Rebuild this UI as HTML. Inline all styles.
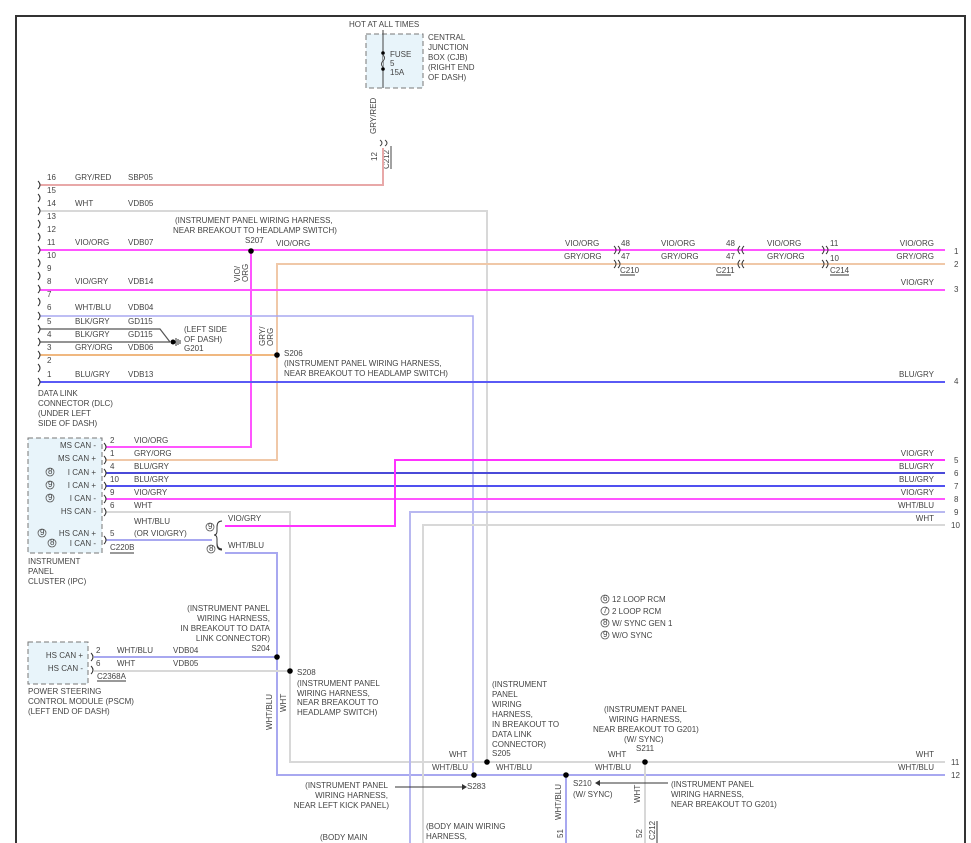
<!DOCTYPE html>
<html><head><meta charset="utf-8"><style>
html,body{margin:0;padding:0;background:#fff;}
svg{display:block;}
text{font-family:"Liberation Sans",sans-serif;font-size:8px;fill:#444;}
</style></head><body>
<svg width="971" height="843" viewBox="0 0 971 843" xmlns="http://www.w3.org/2000/svg">
<rect width="971" height="843" fill="#fff"/>
<!-- frame -->
<path d="M16,843 V16 H965 V843" fill="none" stroke="#333" stroke-width="2"/>

<!-- CJB -->
<text x="349" y="27">HOT AT ALL TIMES</text>
<rect x="366" y="34" width="57" height="54" fill="#e8f4fa" stroke="#777" stroke-dasharray="5,3"/>
<line x1="383" y1="30" x2="383" y2="88" stroke="#444" stroke-width="1"/>
<circle cx="383" cy="53" r="1.8" fill="#000"/><circle cx="383" cy="69" r="1.8" fill="#000"/>
<path d="M383,55 q3,3 0,6 q-3,3 0,6" fill="#e8f4fa" stroke="#444"/>
<text x="390" y="57">FUSE</text><text x="390" y="66">5</text><text x="390" y="75">15A</text>
<text x="428" y="40">CENTRAL</text><text x="428" y="50">JUNCTION</text><text x="428" y="60">BOX (CJB)</text><text x="428" y="70">(RIGHT END</text><text x="428" y="80">OF DASH)</text>
<text transform="translate(376,134) rotate(-90)">GRY/RED</text>
<text transform="translate(377,161) rotate(-90)">12</text>
<text transform="translate(389,169) rotate(-90)">C212</text>
<line x1="391" y1="146" x2="391" y2="169" stroke="#444"/>
<path d="M380,140 q4,3 0,6 M385,140 q4,3 0,6" fill="none" stroke="#444"/>

<!-- wires -->
<g fill="none" stroke-width="2">
<path d="M40,185 H383 V148" stroke="#e8a8a8"/>
<path d="M40,211 H487 V762" stroke="#d8d8d8"/>
<path d="M40,250 H945" stroke="#ff55ff"/>
<path d="M251,250 V447 H106" stroke="#ff55ff"/>
<path d="M945,264 H277 V460 H106" stroke="#f0c8a8"/>
<path d="M40,355 H277" stroke="#f0b880"/>
<path d="M40,290 H945" stroke="#ff55ff"/>
<path d="M40,316 H473 V775" stroke="#a8a8f0" stroke-width="1.5"/>
<path d="M40,382 H945" stroke="#5a5af5"/>
<path d="M106,473 H945" stroke="#4a4ad8"/>
<path d="M106,486 H945" stroke="#5050f0"/>
<path d="M106,499 H945" stroke="#ff55ff"/>
<path d="M106,512 H290 V762 H945" stroke="#d8d8d8"/>
<path d="M106,540 H212" stroke="#a8a8f0"/>
<path d="M225,526 H395 V460 H945" stroke="#ff33ff"/>
<path d="M225,553 H277 V775 H945" stroke="#a8a8f0"/>
<path d="M94,657 H277" stroke="#a8a8f0"/>
<path d="M94,671 H290" stroke="#d8d8d8"/>
<path d="M945,512 H410 V843" stroke="#b8b8f0"/>
<path d="M945,525 H423 V843" stroke="#d8d8d8"/>
<path d="M645,762 V843" stroke="#d8d8d8"/>
<path d="M566,775 V843" stroke="#a8a8f0"/>
</g>
<g fill="none" stroke="#555" stroke-width="1.2">
<path d="M40,329 H160 L170,342"/>
<path d="M40,342 H170"/>
</g>
<!-- G201 -->
<circle cx="173" cy="342" r="2.5" fill="#000"/>
<path d="M176,338 v8 M178,339 v6 M180,340 v4" stroke="#333"/>
<text x="184" y="332">(LEFT SIDE</text><text x="184" y="342">OF DASH)</text><text x="184" y="351">G201</text>

<!-- DLC pins -->
<g fill="none" stroke="#333" stroke-width="1">
<path d="M38,181 q4,4 0,8 M38,194 q4,4 0,8 M38,207 q4,4 0,8 M38,220 q4,4 0,8 M38,233 q4,4 0,8 M38,246 q4,4 0,8 M38,259 q4,4 0,8 M38,272 q4,4 0,8 M38,285 q4,4 0,8 M38,298 q4,4 0,8 M38,312 q4,4 0,8 M38,325 q4,4 0,8 M38,338 q4,4 0,8 M38,351 q4,4 0,8 M38,364 q4,4 0,8 M38,378 q4,4 0,8"/>
</g>
<g>
<text x="47" y="180">16</text><text x="75" y="180">GRY/RED</text><text x="128" y="180">SBP05</text>
<text x="47" y="193">15</text>
<text x="47" y="206">14</text><text x="75" y="206">WHT</text><text x="128" y="206">VDB05</text>
<text x="47" y="219">13</text><text x="47" y="232">12</text>
<text x="47" y="245">11</text><text x="75" y="245">VIO/ORG</text><text x="128" y="245">VDB07</text>
<text x="47" y="258">10</text><text x="47" y="271">9</text>
<text x="47" y="284">8</text><text x="75" y="284">VIO/GRY</text><text x="128" y="284">VDB14</text>
<text x="47" y="297">7</text>
<text x="47" y="310">6</text><text x="75" y="310">WHT/BLU</text><text x="128" y="310">VDB04</text>
<text x="47" y="324">5</text><text x="75" y="324">BLK/GRY</text><text x="128" y="324">GD115</text>
<text x="47" y="337">4</text><text x="75" y="337">BLK/GRY</text><text x="128" y="337">GD115</text>
<text x="47" y="350">3</text><text x="75" y="350">GRY/ORG</text><text x="128" y="350">VDB06</text>
<text x="47" y="363">2</text>
<text x="47" y="377">1</text><text x="75" y="377">BLU/GRY</text><text x="128" y="377">VDB13</text>
<text x="38" y="396">DATA LINK</text><text x="38" y="406">CONNECTOR (DLC)</text><text x="38" y="416">(UNDER LEFT</text><text x="38" y="426">SIDE OF DASH)</text>
</g>

<!-- splices top -->
<circle cx="251" cy="251" r="2.8" fill="#000"/>
<text x="175" y="223">(INSTRUMENT PANEL WIRING HARNESS,</text>
<text x="173" y="233">NEAR BREAKOUT TO HEADLAMP SWITCH)</text>
<text x="245" y="243">S207</text><text x="276" y="246">VIO/ORG</text>
<text transform="translate(240,282) rotate(-90)">VIO/</text><text transform="translate(248,282) rotate(-90)">ORG</text>
<text transform="translate(265,346) rotate(-90)">GRY/</text><text transform="translate(273,346) rotate(-90)">ORG</text>
<circle cx="277" cy="355" r="2.8" fill="#000"/>
<text x="284" y="356">S206</text>
<text x="284" y="366">(INSTRUMENT PANEL WIRING HARNESS,</text>
<text x="284" y="376">NEAR BREAKOUT TO HEADLAMP SWITCH)</text>

<!-- right connectors -->
<g fill="none" stroke="#333">
<path d="M614,246 q4,4 0,8 M618,246 q4,4 0,8 M614,260 q4,4 0,8 M618,260 q4,4 0,8"/>
<path d="M740,246 q-4,4 0,8 M744,246 q-4,4 0,8 M740,260 q-4,4 0,8 M744,260 q-4,4 0,8"/>
<path d="M822,246 q4,4 0,8 M826,246 q4,4 0,8 M822,260 q4,4 0,8 M826,260 q4,4 0,8"/>
<path d="M620,275 h15 M716,275 h15 M830,275 h19"/>
</g>
<text x="565" y="246">VIO/ORG</text><text x="621" y="246">48</text><text x="661" y="246">VIO/ORG</text><text x="726" y="246">48</text><text x="767" y="246">VIO/ORG</text><text x="830" y="246">11</text>
<text x="564" y="259">GRY/ORG</text><text x="621" y="259">47</text><text x="661" y="259">GRY/ORG</text><text x="726" y="259">47</text><text x="767" y="259">GRY/ORG</text><text x="830" y="261">10</text>
<text x="620" y="273">C210</text><text x="716" y="273">C211</text><text x="830" y="273">C214</text>
<g text-anchor="end">
<text x="934" y="246">VIO/ORG</text><text x="934" y="259">GRY/ORG</text><text x="934" y="285">VIO/GRY</text><text x="934" y="377">BLU/GRY</text>
<text x="934" y="456">VIO/GRY</text><text x="934" y="469">BLU/GRY</text><text x="934" y="482">BLU/GRY</text><text x="934" y="495">VIO/GRY</text><text x="934" y="508">WHT/BLU</text><text x="934" y="521">WHT</text>
<text x="934" y="757">WHT</text><text x="934" y="770">WHT/BLU</text>
</g>
<g><text x="954" y="254">1</text><text x="954" y="267">2</text><text x="954" y="292">3</text><text x="954" y="384">4</text><text x="954" y="463">5</text><text x="954" y="476">6</text><text x="954" y="489">7</text><text x="954" y="502">8</text><text x="954" y="515">9</text><text x="951" y="528">10</text><text x="951" y="765">11</text><text x="951" y="778">12</text></g>

<!-- IPC -->
<rect x="28" y="438" width="74" height="115" fill="#e8f4fa" stroke="#777" stroke-dasharray="5,3"/>
<g text-anchor="end">
<text x="96" y="448">MS CAN -</text><text x="96" y="461">MS CAN +</text><text x="96" y="475">I CAN +</text><text x="96" y="488">I CAN +</text><text x="96" y="501">I CAN -</text><text x="96" y="514">HS CAN -</text><text x="96" y="536">HS CAN +</text><text x="96" y="546">I CAN -</text>
</g>
<g fill="none" stroke="#555" stroke-width="0.8">
<circle cx="50" cy="472" r="4"/><circle cx="50" cy="485" r="4"/><circle cx="50" cy="498" r="4"/><circle cx="42" cy="533" r="4"/><circle cx="52" cy="543" r="4"/>
<circle cx="210" cy="527" r="4"/><circle cx="211" cy="549" r="4"/>
</g>
<g style="font-size:6px"><text x="48" y="474">8</text><text x="48" y="487">9</text><text x="48" y="500">9</text><text x="40" y="535">9</text><text x="50" y="545">8</text><text x="208" y="529">9</text><text x="209" y="551">8</text></g>
<g fill="none" stroke="#333">
<path d="M104,443 q4,4 0,8 M104,456 q4,4 0,8 M104,469 q4,4 0,8 M104,482 q4,4 0,8 M104,495 q4,4 0,8 M104,508 q4,4 0,8 M104,536 q4,4 0,8"/>
<path d="M222,521 q-5,0 -5,6 v4 q0,4 -3,4 q3,0 3,4 v4 q0,6 5,6 v-0 M217,539 v5 q0,6 5,6"/>
<path d="M110,553 h24"/>
</g>
<text x="110" y="443">2</text><text x="134" y="443">VIO/ORG</text>
<text x="110" y="456">1</text><text x="134" y="456">GRY/ORG</text>
<text x="110" y="469">4</text><text x="134" y="469">BLU/GRY</text>
<text x="110" y="482">10</text><text x="134" y="482">BLU/GRY</text>
<text x="110" y="495">9</text><text x="134" y="495">VIO/GRY</text>
<text x="110" y="508">6</text><text x="134" y="508">WHT</text>
<text x="134" y="524">WHT/BLU</text><text x="134" y="536">(OR VIO/GRY)</text>
<text x="110" y="536">5</text><text x="110" y="550">C220B</text>
<text x="228" y="521">VIO/GRY</text><text x="228" y="548">WHT/BLU</text>
<text x="28" y="564">INSTRUMENT</text><text x="28" y="574">PANEL</text><text x="28" y="584">CLUSTER (IPC)</text>

<!-- legend -->
<g fill="none" stroke="#555" stroke-width="0.8"><circle cx="605" cy="599" r="4"/><circle cx="605" cy="611" r="4"/><circle cx="605" cy="623" r="4"/><circle cx="605" cy="635" r="4"/></g>
<g style="font-size:6px"><text x="603" y="601">6</text><text x="603" y="613">7</text><text x="603" y="625">8</text><text x="603" y="637">9</text></g>
<text x="612" y="602">12 LOOP RCM</text><text x="612" y="614">2 LOOP RCM</text><text x="612" y="626">W/ SYNC GEN 1</text><text x="612" y="638">W/O SYNC</text>

<!-- PSCM -->
<rect x="28" y="642" width="60" height="42" fill="#e8f4fa" stroke="#777" stroke-dasharray="5,3"/>
<text x="83" y="658" text-anchor="end">HS CAN +</text><text x="83" y="671" text-anchor="end">HS CAN -</text>
<path d="M91,653 q4,4 0,8 M91,666 q4,4 0,8" fill="none" stroke="#333"/>
<text x="96" y="653">2</text><text x="117" y="653">WHT/BLU</text><text x="173" y="653">VDB04</text>
<text x="96" y="666">6</text><text x="117" y="666">WHT</text><text x="173" y="666">VDB05</text>
<text x="97" y="679">C2368A</text><path d="M97,681 h29" stroke="#333"/>
<text x="28" y="694">POWER STEERING</text><text x="28" y="704">CONTROL MODULE (PSCM)</text><text x="28" y="714">(LEFT END OF DASH)</text>

<g text-anchor="end"><text x="270" y="611">(INSTRUMENT PANEL</text><text x="270" y="621">WIRING HARNESS,</text><text x="270" y="631">IN BREAKOUT TO DATA</text><text x="270" y="641">LINK CONNECTOR)</text><text x="270" y="651">S204</text></g>
<circle cx="277" cy="657" r="2.8" fill="#000"/>
<circle cx="290" cy="671" r="2.8" fill="#000"/>
<text x="297" y="675">S208</text><text x="297" y="686">(INSTRUMENT PANEL</text><text x="297" y="696">WIRING HARNESS,</text><text x="297" y="705">NEAR BREAKOUT TO</text><text x="297" y="715">HEADLAMP SWITCH)</text>
<text transform="translate(272,730) rotate(-90)">WHT/BLU</text>
<text transform="translate(286,712) rotate(-90)">WHT</text>

<!-- bottom -->
<circle cx="474" cy="775" r="2.8" fill="#000"/><circle cx="487" cy="762" r="2.8" fill="#000"/>
<circle cx="566" cy="775" r="2.8" fill="#000"/><circle cx="645" cy="762" r="2.8" fill="#000"/>
<text x="449" y="757">WHT</text><text x="432" y="770">WHT/BLU</text>
<text x="492" y="687">(INSTRUMENT</text><text x="492" y="697">PANEL</text><text x="492" y="707">WIRING</text><text x="492" y="717">HARNESS,</text><text x="492" y="727">IN BREAKOUT TO</text><text x="492" y="737">DATA LINK</text><text x="492" y="747">CONNECTOR)</text><text x="492" y="756">S205</text>
<text x="496" y="770">WHT/BLU</text>
<text x="604" y="712">(INSTRUMENT PANEL</text><text x="609" y="722">WIRING HARNESS,</text><text x="593" y="732">NEAR BREAKOUT TO G201)</text><text x="624" y="742">(W/ SYNC)</text><text x="636" y="751">S211</text>
<text x="608" y="757">WHT</text><text x="595" y="770">WHT/BLU</text>
<text x="467" y="789">S283</text>
<path d="M395,787 H462" stroke="#333"/><path d="M462,784 l5,3 l-5,3z" fill="#333"/>
<g text-anchor="end"><text x="388" y="788">(INSTRUMENT PANEL</text><text x="388" y="798">WIRING HARNESS,</text><text x="389" y="808">NEAR LEFT KICK PANEL)</text></g>
<text x="573" y="786">S210</text><text x="573" y="797">(W/ SYNC)</text>
<path d="M600,783 H668" stroke="#333"/><path d="M600,780 l-5,3 l5,3z" fill="#333"/>
<text x="671" y="787">(INSTRUMENT PANEL</text><text x="671" y="797">WIRING HARNESS,</text><text x="671" y="807">NEAR BREAKOUT TO G201)</text>
<text transform="translate(561,820) rotate(-90)">WHT/BLU</text>
<text transform="translate(640,803) rotate(-90)">WHT</text>
<text transform="translate(563,838) rotate(-90)">51</text>
<text transform="translate(642,838) rotate(-90)">52</text>
<text transform="translate(655,840) rotate(-90)">C212</text>
<path d="M657,821 v22" stroke="#333"/>
<text x="426" y="829">(BODY MAIN WIRING</text><text x="426" y="839">HARNESS,</text>
<text x="320" y="840">(BODY MAIN</text>
</svg>
</body></html>
